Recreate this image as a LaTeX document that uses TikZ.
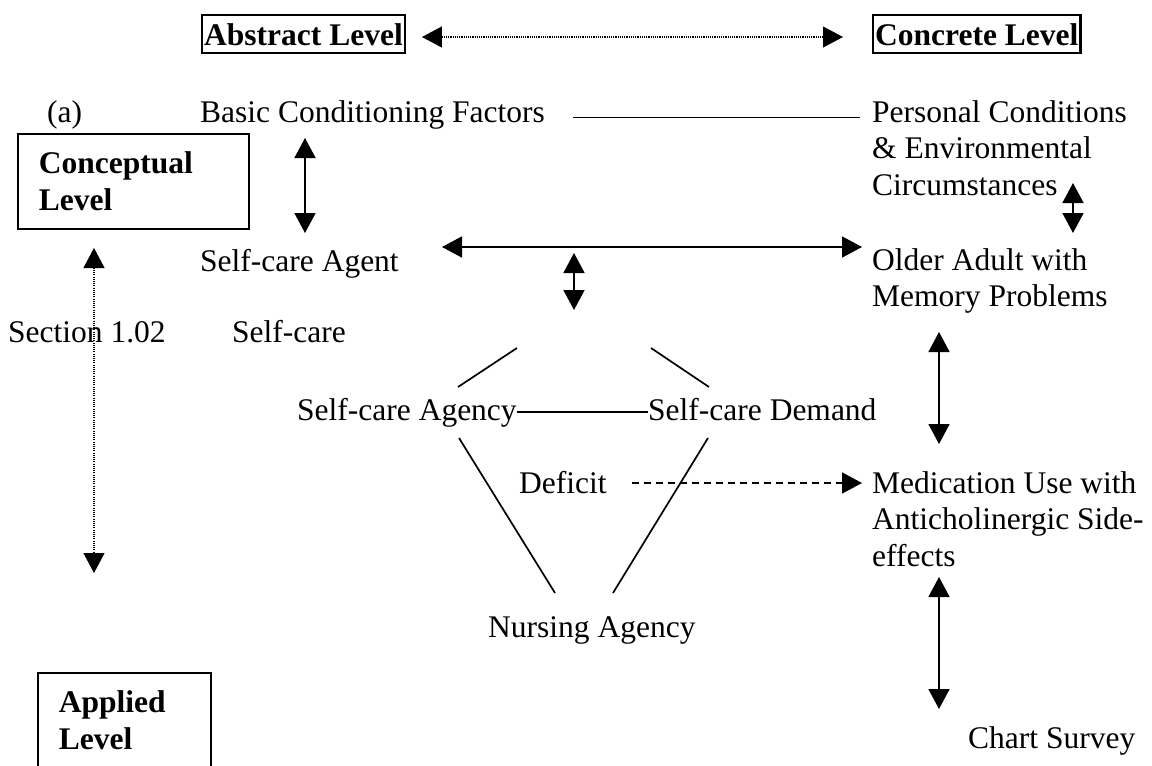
\documentclass[tikz,border=0pt]{standalone}
\usepackage{fontspec}
\setmainfont{Liberation Serif}
\usetikzlibrary{arrows.meta,calc}

\begin{document}
\begin{tikzpicture}[x=1pt, y=-1pt, >={Triangle[length=20pt,width=21pt]},
    txt/.style={anchor=base west, inner sep=0pt, align=left, font=\fontsize{31.5}{36.5}\selectfont},
    toplvl/.style={anchor=base west, draw, line width=2.4pt, inner xsep=2pt, inner ysep=0pt, text height=30pt, text depth=8pt, font=\fontsize{31.5}{36.5}\selectfont\bfseries},
    sidelvl/.style={anchor=north west, draw, line width=1.6pt, inner xsep=21pt, inner ysep=0pt, text width=#1, minimum height=95pt, align=left, font=\fontsize{31.5}{37}\selectfont\bfseries},
    link/.style={line width=1.7pt},
    dbl/.style={<->, line width=1.7pt},
    dotlink/.style={<->, line width=1.1pt, dash pattern=on 1.1pt off 1.1pt},
    dashlink/.style={->, line width=1.6pt, dash pattern=on 7pt off 5pt}]

    \useasboundingbox (0,0) rectangle (1152,766);

    % levels
    \node[toplvl] (abs) at (201,45) {Abstract Level};
    \node[toplvl] (con) at (872,45) {Concrete Level};
    \draw[dotlink] ([xshift=16pt,yshift=-3pt]abs.east) -- ([xshift=-29pt,yshift=-3pt]con.west);

    \node[sidelvl=189pt] (cl) at (17,133) {Conceptual\\Level};
    \node[sidelvl=131pt] (al) at (37,672) {Applied\\Level};
    \node[txt] (a) at (47,122) {(a)};
    \node[txt] (sec) at (8,342) {Section 1.02};
    \coordinate (lvl-a) at (94,248);
    \coordinate (lvl-b) at (94,573);
    \draw[dotlink] (lvl-a) -- (lvl-b);

    % abstract side
    \node[txt] (bcf) at (200,122) {Basic Conditioning Factors};
    \node[txt] (agent) at (200,271) {Self-care Agent};
    \node[txt] (sc) at (232,342) {Self-care};
    \node[txt] (agency) at (297,420) {Self-care Agency};
    \node[txt] (demand) at (648,420) {Self-care Demand};
    \node[txt] (deficit) at (519,493) {Deficit};
    \node[txt] (na) at (488,637) {Nursing Agency};

    % concrete side (base = last line)
    \node[txt] (pc) at (872,195) {Personal Conditions\\\& Environmental\\Circumstances};
    \node[txt] (oa) at (872,306.5) {Older Adult with\\Memory Problems};
    \node[txt] (mu) at (872,566) {Medication Use with\\Anticholinergic Side-\\effects};
    \node[txt] (cs) at (968,748) {Chart Survey};

    % links
    \draw[link, shorten <=28pt, shorten >=12pt] ([yshift=-3pt]bcf.east) -- ([yshift=-3pt]bcf.east -| pc.west);
    \coordinate (bcf-a) at (305,138);
    \coordinate (bcf-b) at (305,233);
    \draw[dbl] (bcf-a) -- (bcf-b);
    \coordinate (pc-a) at (1073,183);
    \coordinate (pc-b) at (1073,233);
    \draw[dbl] (pc-a) -- (pc-b);
    \coordinate (agent-r) at (442,247);
    \coordinate (oa-l) at (862,247);
    \draw[dbl] (agent-r) -- (oa-l);
    \coordinate (mid-a) at (574,253);
    \coordinate (mid-b) at (574,310);
    \draw[dbl] (mid-a) -- (mid-b);
    \coordinate (oa-a) at (939,332);
    \coordinate (oa-b) at (939,444);
    \draw[dbl] (oa-a) -- (oa-b);
    \coordinate (mu-a) at (939,577);
    \coordinate (mu-b) at (939,709);
    \draw[dbl] (mu-a) -- (mu-b);

    % self-care triangle
    \draw[link] (517,348) -- (458,387);
    \draw[link] (651,348) -- (709,387);
    \draw[link] (agency.east) -- (agency.east -| demand.west);
    \draw[link] (459,438) -- (555,593);
    \draw[link] (708,438) -- (613,593);
    \coordinate (mu-l) at (862,483);
    \draw[dashlink, shorten <=25pt] (deficit.east |- mu-l) -- (mu-l);
\end{tikzpicture}
\end{document}
